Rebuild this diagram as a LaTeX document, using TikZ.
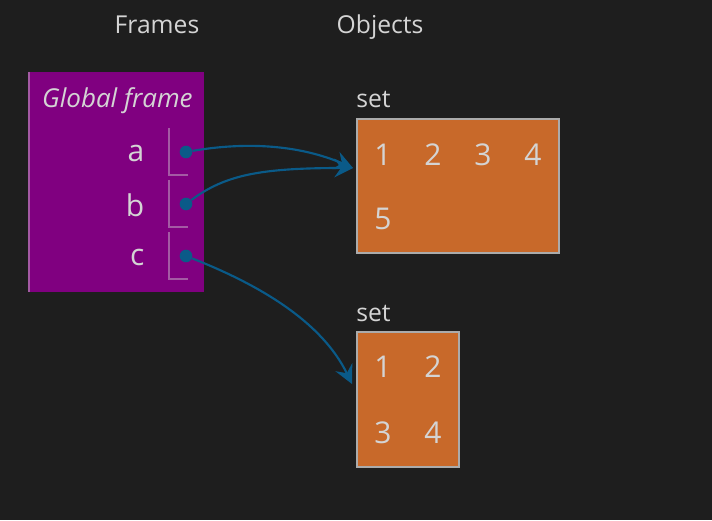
\documentclass[tikz,border=0pt]{standalone}
\usepackage{fontspec}
\setmainfont{Open Sans}
\usetikzlibrary{arrows.meta}
\definecolor{bgdark}{HTML}{1E1E1E}
\definecolor{txtgray}{HTML}{D4D4D4}
\definecolor{framepurple}{HTML}{800080}
\definecolor{frameedge}{HTML}{A45AA4}
\definecolor{setorange}{HTML}{C8692A}
\definecolor{setedge}{HTML}{ABABAB}
\definecolor{ptrblue}{HTML}{0A5A88}

\begin{document}
\begin{tikzpicture}[x=0.75pt,y=-0.75pt,
	heading/.style={text=txtgray,anchor=base,inner sep=0pt,font=\fontsize{18.5}{20}\selectfont},
	varname/.style={text=txtgray,anchor=east,font=\fontsize{22.5}{24}\selectfont},
	elem/.style={text=txtgray,font=\fontsize{22.5}{24}\selectfont},
	setbox/.style={draw=setedge,fill=setorange,line width=1.5pt,anchor=north west,inner sep=0pt,outer sep=0pt},
	ptrdot/.style={circle,fill=ptrblue,inner sep=0pt,minimum size=9.5pt},
	ptr/.style={draw=ptrblue,line width=1.6pt,-{Stealth[length=14pt,width=14pt,inset=5pt]}}]
	% background
	\fill[bgdark] (0,0) rectangle (712,520);

	% headings
	\node[heading] (frames) at (157,34) {Frames};
	\node[heading] (objects) at (380,34) {Objects};

	% the global frame
	\fill[framepurple] (28,72) rectangle (204,292);
	\draw[frameedge,line width=1.5pt] (29,72) -- (29,292);
	\node[heading,anchor=base east,font=\fontsize{19.5}{21}\selectfont\itshape] (gframe) at (193,108) {Global frame};

	% variable names and their slots
	\node[varname] (va) at (149,153) {a};
	\node[varname] (vb) at (149,205) {b};
	\node[varname] (vc) at (149,257) {c};
	\draw[frameedge,line width=1pt] (169,128) |- (188,175);
	\draw[frameedge,line width=1pt] (169,180) |- (188,227);
	\draw[frameedge,line width=1pt] (169,232) |- (188,279);
	\node[ptrdot] (da) at (186,152) {};
	\node[ptrdot] (db) at (186,204) {};
	\node[ptrdot] (dc) at (186,256) {};

	% first set
	\node[heading,anchor=base west] (lset1) at (356,108) {set};
	\node[setbox,minimum width=151.5pt,minimum height=100.5pt] (set1) at (357,119) {};
	\node[elem] (s1e1) at (383,155) {1};
	\node[elem] (s1e2) at (433,155) {2};
	\node[elem] (s1e3) at (483,155) {3};
	\node[elem] (s1e4) at (533,155) {4};
	\node[elem] (s1e5) at (383,219) {5};

	% second set
	\node[heading,anchor=base west] (lset2) at (356,321) {set};
	\node[setbox,minimum width=76.5pt,minimum height=101.25pt] (set2) at (357,332) {};
	\node[elem] (s2e1) at (383,367) {1};
	\node[elem] (s2e2) at (433,367) {2};
	\node[elem] (s2e3) at (383,433) {3};
	\node[elem] (s2e4) at (433,433) {4};

	% pointers
	\coordinate (t1) at (353,168);
	\coordinate (t2) at (352,384);
	\draw[ptr] (da) .. controls (250,141) and (302,146) .. (t1);
	\draw[ptr] (db) .. controls (225,175) and (260,168) .. (t1);
	\draw[ptr] (dc) .. controls (260,285) and (322,322) .. (t2);
\end{tikzpicture}
\end{document}
